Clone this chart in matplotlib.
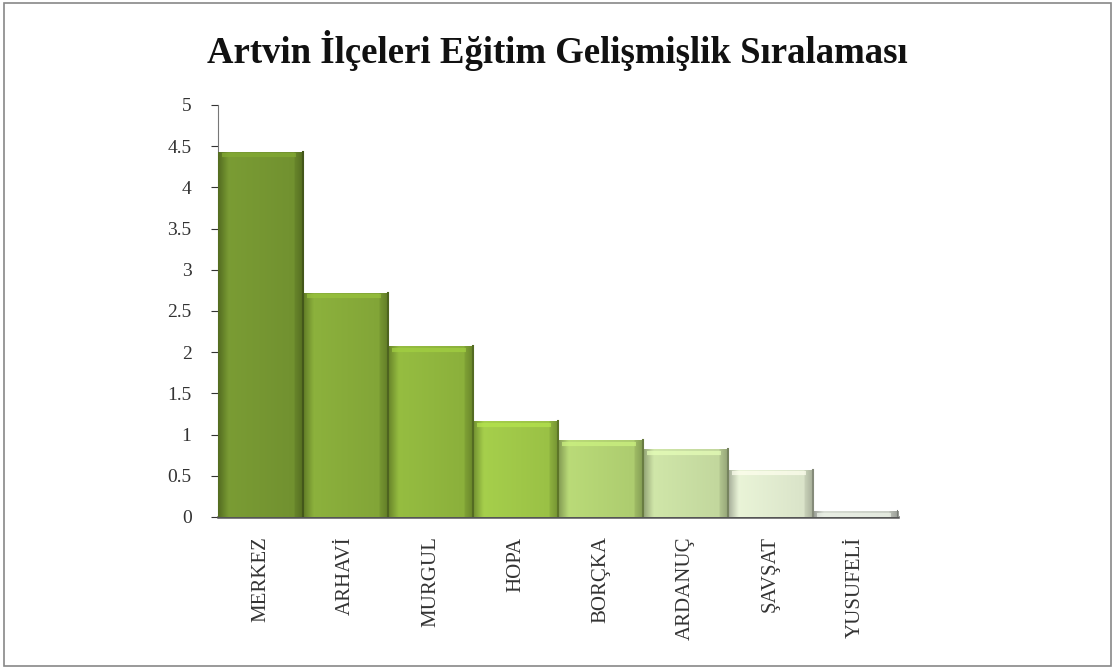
import numpy as np
import matplotlib
matplotlib.use("Agg")
import matplotlib.pyplot as plt
from matplotlib.colors import to_rgb

plt.rcParams['font.family'] = ['Liberation Serif', 'DejaVu Serif']

districts = ['MERKEZ', 'ARHAVİ', 'MURGUL', 'HOPA', 'BORÇKA', 'ARDANUÇ', 'ŞAVŞAT', 'YUSUFELİ']
scores = [4.43, 2.72, 2.07, 1.16, 0.93, 0.82, 0.57, 0.07]
bar_colors = ['#6c8c2a', '#7da032', '#86ab36', '#95bc40', '#a8c76a', '#bdd298', '#d5dfc4', '#c4c9c0']

fig = plt.figure(figsize=(11.15, 6.7), dpi=100)
ax = fig.add_axes([0.1955, 0.2284, 0.61, 0.6149])

x = np.arange(len(districts))
bars = ax.bar(x, scores, width=1.0, color=bar_colors, edgecolor='none', zorder=2)

# horizontal shading for a bevelled look
shade = np.linspace(0, 1, 64)
for b, c in zip(bars, bar_colors):
    base = np.array(to_rgb(c))
    dark = base * 0.78
    light = np.clip(base * 1.06 + 0.03, 0, 1)
    prof = np.where(shade < 0.12, shade / 0.12, np.where(shade > 0.9, (1 - shade) / 0.1 * 0.5, 1 - (shade - 0.12) * 0.3))
    img = dark[None, :] + (light - dark)[None, :] * prof[:, None]
    img = img[None, :, :]
    x0, w, h = b.get_x(), b.get_width(), b.get_height()
    im = ax.imshow(img, extent=[x0, x0 + w, 0, h], aspect='auto', zorder=3, interpolation='bilinear')
    im.set_clip_path(b)
    # top highlight and right edge
    ax.plot([x0 + 0.05, x0 + w - 0.08], [h - 0.04, h - 0.04], color=np.clip(base * 1.22, 0, 1), lw=3, alpha=0.7, zorder=4, solid_capstyle='butt')
    ax.plot([x0 + w, x0 + w], [0, h], color=dark * 0.8, lw=1.5, zorder=4)

ax.set_xlim(-0.5, len(districts) - 0.5)
ax.set_ylim(0, 5)
ax.set_yticks(np.arange(0, 5.01, 0.5))
ax.set_yticklabels(['0', '0.5', '1', '1.5', '2', '2.5', '3', '3.5', '4', '4.5', '5'])
ax.set_xticks(x)
ax.set_xticklabels(districts, rotation=90, va='top', ha='center')
ax.tick_params(axis='x', length=0, pad=14, labelsize=15, colors='#333333')
ax.tick_params(axis='y', length=5, direction='out', labelsize=14, colors='#333333', pad=14)
for s in ['top', 'right']:
    ax.spines[s].set_visible(False)
ax.spines['left'].set_color('#777777')
ax.spines['bottom'].set_color('#555555')
ax.spines['bottom'].set_linewidth(1.8)
ax.set_facecolor('none')

fig.text(0.5, 0.925, 'Artvin İlçeleri Eğitim Gelişmişlik Sıralaması', ha='center', va='center',
         fontsize=26.5, fontweight='bold', color='#111111')

# outer frame
fig.patches.append(plt.Rectangle((0.004, 0.006), 0.992, 0.99, transform=fig.transFigure,
                                 fill=False, edgecolor='#888888', lw=1.2))

fig.savefig('out.png', dpi=100)
